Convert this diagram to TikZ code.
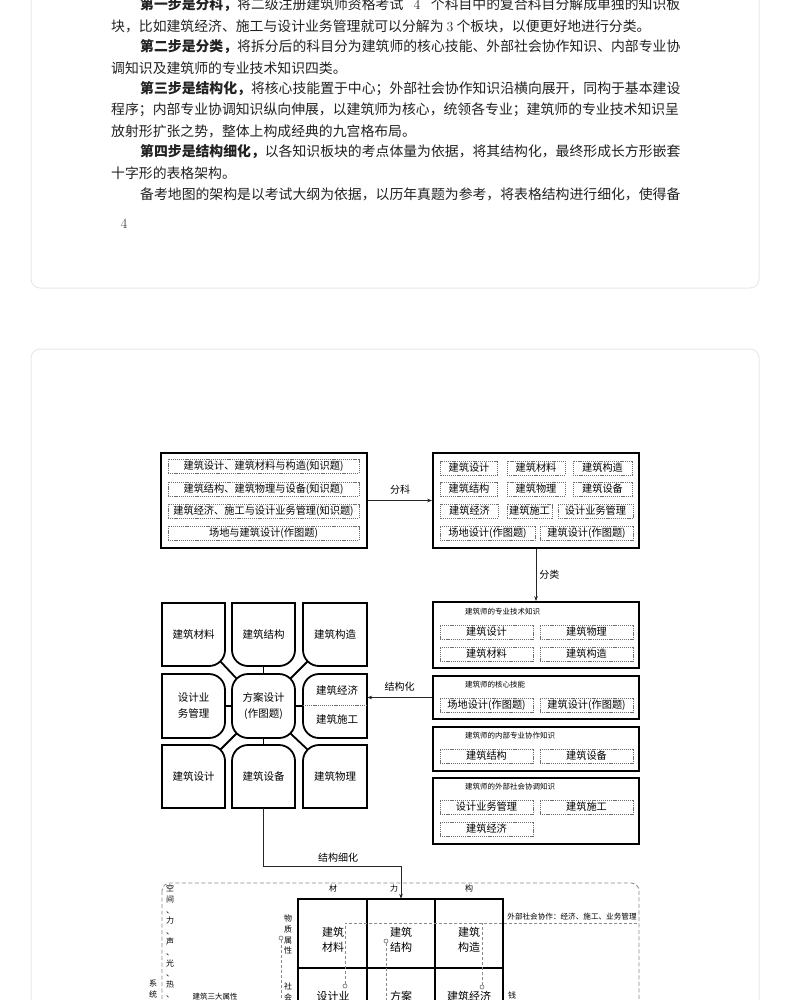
\documentclass[tikz,border=0pt]{standalone}
\usepackage{fontspec}
\newfontfamily\cjk{Noto Sans CJK SC}
\usetikzlibrary{arrows.meta,calc}
\definecolor{cardline}{HTML}{E4E9F0}
\definecolor{dgray}{HTML}{6E6E6E}
\definecolor{lgray}{HTML}{8A8A8A}
\definecolor{txt}{HTML}{222222}
\newcommand\gridcell[8]{% x1 y1 x2 y2 rTL rTR rBR rBL
 \draw[gridline] ({#1+#5},#2) -- ({#3-#6},#2) .. controls ({#3-0.448*#6},#2) and (#3,{#2+0.448*#6}) .. (#3,{#2+#6})
 -- (#3,{#4-#7}) .. controls (#3,{#4-0.448*#7}) and ({#3-0.448*#7},#4) .. ({#3-#7},#4)
 -- ({#1+#8},#4) .. controls ({#1+0.448*#8},#4) and (#1,{#4-0.448*#8}) .. (#1,{#4-#8})
 -- (#1,{#2+#5}) .. controls (#1,{#2+0.448*#5}) and ({#1+0.448*#5},#2) .. ({#1+#5},#2) -- cycle;}
\begin{document}
\begin{tikzpicture}[x=1pt,y=-1pt,
  para/.style={anchor=west,inner sep=0pt,text=txt,font=\cjk\fontsize{13.85}{16}\selectfont},
  outer/.style={draw=black,line width=1.8pt,minimum width=206pt,inner sep=0pt},
  dbox/.style={draw=dgray,dash pattern=on 1.2pt off 0.9pt,line width=0.5pt,inner sep=0pt,minimum height=14.5pt,font=\cjk\fontsize{10.2}{12}\selectfont},
  ttl/.style={anchor=west,inner sep=0pt,font=\cjk\fontsize{7.5}{9}\selectfont},
  lbl/.style={inner sep=0pt,font=\cjk\fontsize{10}{12}\selectfont},
  gtext/.style={inner sep=0pt,minimum width=63pt,minimum height=63pt,align=center,font=\cjk\fontsize{10.5}{16}\selectfont},
  gridline/.style={draw=black,line width=1.8pt},
  gconn/.style={draw=black,line width=1.8pt},
  conn/.style={draw=black!85,line width=0.7pt},
  arr/.style={conn,-{Stealth[length=5pt,width=3.6pt]}},
  cell/.style={inner sep=0pt,align=center,font=\cjk\fontsize{11}{15}\selectfont},
  small/.style={inner sep=0pt,font=\cjk\fontsize{8}{10}\selectfont},
  vt/.style={inner sep=0pt,align=center,font=\cjk\fontsize{8}{10.6}\selectfont},
  dline/.style={draw=lgray,dash pattern=on 3pt off 2pt,line width=0.7pt},
  frame/.style={draw=lgray,dash pattern=on 4pt off 2.5pt,line width=0.8pt,rounded corners=8pt},
  dot/.style={circle,draw=dgray,fill=white,inner sep=0pt,minimum size=4pt,line width=0.6pt}
]
\useasboundingbox (0,0) rectangle (790,1000);
\clip (0,0) rectangle (790,1000);
\fill[white] (0,0) rectangle (790,1000);
% cards
\draw[cardline,line width=1pt,rounded corners=9pt] (31,-30) rectangle (759,288);
\draw[cardline,line width=1pt,rounded corners=9pt] (31,349) rectangle (759,1100);
% paragraph
\node[para] (p1) at (140,5) {\makebox[540pt][s]{\bfseries 第一步是分科，\mdseries 将二级注册建筑师资格考试 {\rmfamily 4} 个科目中的复合科目分解成单独的知识板}};
\node[para] (p2) at (111,26) {块，比如建筑经济、施工与设计业务管理就可以分解为 {\rmfamily 3} 个板块，以便更好地进行分类。};
\node[para] (p3) at (140,47) {\bfseries 第二步是分类，\mdseries 将拆分后的科目分为建筑师的核心技能、外部社会协作知识、内部专业协};
\node[para] (p4) at (111,68) {调知识及建筑师的专业技术知识四类。};
\node[para] (p5) at (140,89) {\bfseries 第三步是结构化，\mdseries 将核心技能置于中心；外部社会协作知识沿横向展开，同构于基本建设};
\node[para] (p6) at (111,110) {程序；内部专业协调知识纵向伸展，以建筑师为核心，统领各专业；建筑师的专业技术知识呈};
\node[para] (p7) at (111,131) {放射形扩张之势，整体上构成经典的九宫格布局。};
\node[para] (p8) at (140,152) {\bfseries 第四步是结构细化，\mdseries 以各知识板块的考点体量为依据，将其结构化，最终形成长方形嵌套};
\node[para] (p9) at (111,173) {十字形的表格架构。};
\node[para] (p10) at (140,194) {备考地图的架构是以考试大纲为依据，以历年真题为参考，将表格结构进行细化，使得备};
\node[inner sep=0pt,text=black!70,font=\rmfamily\fontsize{14}{16}\selectfont] (pg) at (124,224) {4};

% Box A
\node[outer,minimum height=95pt] (A) at (264,500.5) {};
\node[dbox,minimum width=191pt] (a1) at (263.5,466) {建筑设计、建筑材料与构造(知识题)};
\node[dbox,minimum width=191pt] (a2) at (263.5,489) {建筑结构、建筑物理与设备(知识题)};
\node[dbox,minimum width=191pt] (a3) at (263.5,511) {建筑经济、施工与设计业务管理(知识题)};
\node[dbox,minimum width=191pt] (a4) at (263.5,533) {场地与建筑设计(作图题)};
% Box B
\node[outer,minimum height=95pt] (B) at (536,500.5) {};
\node[dbox,minimum width=57pt] (b11) at (469,468) {建筑设计};
\node[dbox,minimum width=58pt] (b12) at (536,468) {建筑材料};
\node[dbox,minimum width=59pt] (b13) at (602.5,468) {建筑构造};
\node[dbox,minimum width=57pt] (b21) at (469,489) {建筑结构};
\node[dbox,minimum width=58pt] (b22) at (536,489) {建筑物理};
\node[dbox,minimum width=59pt] (b23) at (602.5,489) {建筑设备};
\node[dbox,minimum width=58pt] (b31) at (469.5,511) {建筑经济};
\node[dbox,minimum width=45pt] (b32) at (529.5,511) {建筑施工};
\node[dbox,minimum width=75pt] (b33) at (595.5,511) {设计业务管理};
\node[dbox,minimum width=95pt] (b41) at (487.5,533) {场地设计(作图题)};
\node[dbox,minimum width=93pt] (b42) at (586.5,533) {建筑设计(作图题)};
\draw[arr] (A.east) -- (B.west) node[lbl,midway,above=6pt] {分科};

% Boxes C
\node[outer,minimum height=66pt] (C1) at (536,635) {};
\node[ttl] (C1t) at (465,612) {建筑师的专业技术知识};
\node[dbox,minimum width=93pt] (c11) at (486.5,632) {建筑设计};
\node[dbox,minimum width=93pt] (c12) at (586.5,632) {建筑物理};
\node[dbox,minimum width=93pt] (c13) at (486.5,654) {建筑材料};
\node[dbox,minimum width=93pt] (c14) at (586.5,654) {建筑构造};
\node[outer,minimum height=43pt] (C2) at (536,697.5) {};
\node[ttl] (C2t) at (465,685) {建筑师的核心技能};
\node[dbox,minimum width=93pt] (c21) at (486.5,705) {场地设计(作图题)};
\node[dbox,minimum width=93pt] (c22) at (586.5,705) {建筑设计(作图题)};
\node[outer,minimum height=44pt] (C3) at (536,749) {};
\node[ttl] (C3t) at (465,736) {建筑师的内部专业协作知识};
\node[dbox,minimum width=93pt] (c31) at (486.5,756) {建筑结构};
\node[dbox,minimum width=93pt] (c32) at (586.5,756) {建筑设备};
\node[outer,minimum height=66pt] (C4) at (536,811) {};
\node[ttl] (C4t) at (465,787) {建筑师的外部社会协调知识};
\node[dbox,minimum width=93pt] (c41) at (486.5,807) {设计业务管理};
\node[dbox,minimum width=93pt] (c42) at (586.5,807) {建筑施工};
\node[dbox,minimum width=93pt] (c43) at (486.5,829) {建筑经济};
\draw[arr] (B.south) -- (C1.north) node[lbl,midway,right=3pt] {分类};

% nine grid
\gridcell{162}{603}{225}{666}{0}{0}{16}{0}
\gridcell{232}{603}{295}{666}{0}{0}{16}{16}
\gridcell{303}{603}{367}{666}{0}{0}{0}{16}
\gridcell{162}{674}{225}{738}{0}{16}{16}{0}
\gridcell{232}{674}{295}{738}{16}{16}{16}{16}
\gridcell{303}{674}{367}{738}{16}{0}{0}{16}
\gridcell{162}{745}{225}{808}{0}{16}{0}{0}
\gridcell{232}{745}{295}{808}{16}{16}{0}{0}
\gridcell{303}{745}{367}{808}{16}{0}{0}{0}
\node[gtext] (g11) at (193.5,634.5) {建筑材料};
\node[gtext] (g12) at (263.5,634.5) {建筑结构};
\node[gtext,minimum width=64pt] (g13) at (335,634.5) {建筑构造};
\node[gtext,minimum height=64pt] (g21) at (193.5,706) {设计业\\务管理};
\node[gtext,minimum height=64pt] (g22) at (263.5,706) {方案设计\\(作图题)};
\node[gtext,minimum width=64pt,minimum height=64pt] (g23) at (335,706) {};
\node[lbl,font=\cjk\fontsize{10.5}{12}\selectfont] (g23a) at (337,690) {建筑经济};
\node[lbl,font=\cjk\fontsize{10.5}{12}\selectfont] (g23b) at (337,719) {建筑施工};
\draw[dline,dash pattern=on 1.2pt off 0.9pt,line width=0.5pt,draw=dgray] (g23.west |- 0,705) -- (g23.east |- 0,705);
\node[gtext] (g31) at (193.5,776.5) {建筑设计};
\node[gtext] (g32) at (263.5,776.5) {建筑设备};
\node[gtext,minimum width=64pt] (g33) at (335,776.5) {建筑物理};
\draw[gconn] (g22.north) -- (g12.south);
\draw[gconn] (g22.south) -- (g32.north);
\draw[gconn] (g22.west) -- (g21.east);
\draw[gconn] (g22.east) -- (g23.west);
\draw[gconn] ($(g22.north west)+(4.7,4.7)$) -- ($(g11.south east)+(-4.7,-4.7)$);
\draw[gconn] ($(g22.north east)+(-4.7,4.7)$) -- ($(g13.south west)+(4.7,-4.7)$);
\draw[gconn] ($(g22.south west)+(4.7,-4.7)$) -- ($(g31.north east)+(-4.7,4.7)$);
\draw[gconn] ($(g22.south east)+(-4.7,-4.7)$) -- ($(g33.north west)+(4.7,4.7)$);
\draw[arr] (C2.west) -- (C2.west -| g23.east) node[lbl,midway,above=6pt] {结构化};

% bottom section
\draw[frame] (162,883) rectangle (639,1100);
\node[cell,minimum width=69pt,minimum height=69pt] (t11) at (332.5,933.5) {};
\node[cell,minimum width=68pt,minimum height=69pt] (t12) at (401,933.5) {};
\node[cell,minimum width=68pt,minimum height=69pt] (t13) at (469,933.5) {};
\node[cell] (t11a) at (333,940) {建筑\\材料};
\node[cell] (t12a) at (401,940) {建筑\\结构};
\node[cell] (t13a) at (469,940) {建筑\\构造};
\node[cell] (t21) at (333,996) {设计业};
\node[cell] (t22) at (401,996) {方案};
\node[cell] (t23) at (469,996) {建筑经济};
\draw[gridline] (298,899) rectangle (503,1040);
\draw[gridline] (367,899) -- (367,1040);
\draw[gridline] (435,899) -- (435,1040);
\draw[gridline] (298,968) -- (503,968);
\node[small] (m1) at (333,888) {材};
\node[small] (m2) at (394,888) {力};
\node[small] (m3) at (469,888) {构};
\draw[arr] (g32.south) -- ++(0,58) coordinate (k1) -| (t12.north);
\node[lbl] (k1t) at (338,858) {结构细化};
% dashed links
\coordinate (fr1) at (639,923);
\node[dot] (d1) at (345,986) {};
\node[dot] (d2) at (482,987) {};
\node[dot] (d3) at (386,941) {};
\node[dot] (d4) at (281,938) {};
\coordinate (e3) at (386,1010);
\coordinate (e4) at (281,1010);
\draw[dline] (d1.north) |- (fr1);
\draw[dline] (d2.north) -- (d2.north |- fr1);
\draw[dline] (d3.south) -- (e3);
\draw[dline] (d4.south) -- (e4);
\node[small,font=\cjk\fontsize{7.6}{9}\selectfont] (ext) at (572,917) {外部社会协作：经济、施工、业务管理};
\node[small] (qian) at (512,995) {钱};
\node[vt,anchor=north] (v1) at (288,915) {物\\质\\属\\性};
\node[vt,anchor=north] (v2) at (288,983) {社\\会};
\node[vt,anchor=north] (v3) at (170,885) {空\\间\\、\\力\\、\\声\\、\\光\\、\\热\\、\\};
\node[vt,anchor=north] (v4) at (153,980) {系\\统};
\node[small,font=\cjk\fontsize{7.5}{9}\selectfont] (v5) at (215,997) {建筑三大属性};
\end{tikzpicture}
\end{document}
